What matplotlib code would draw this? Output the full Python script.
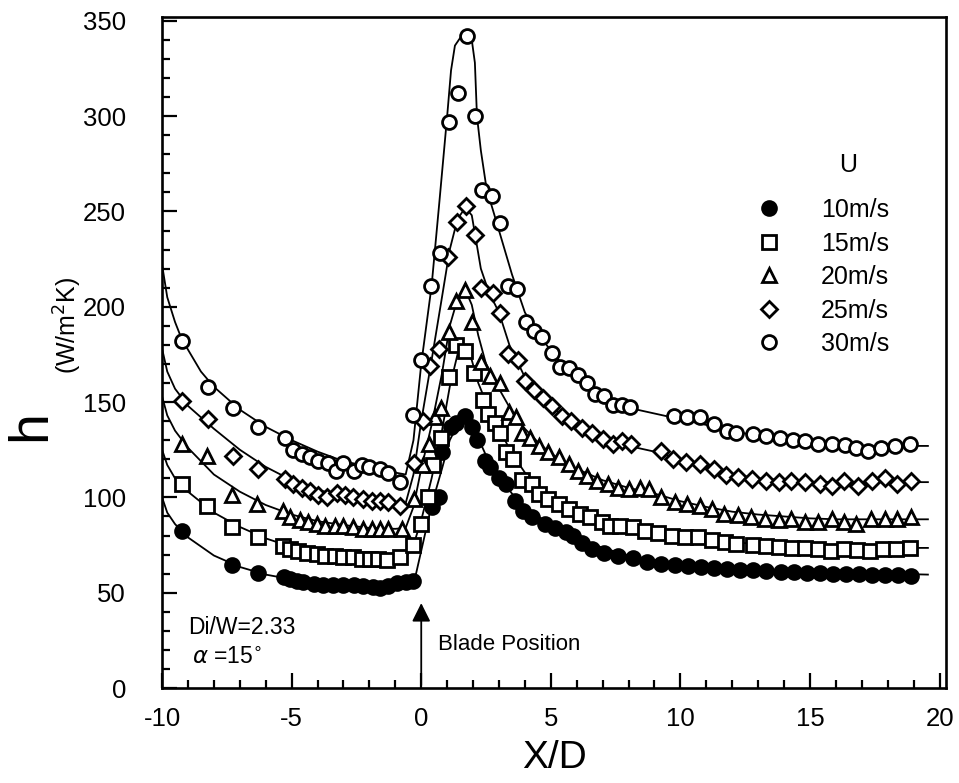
import matplotlib
matplotlib.use('Agg')
import matplotlib.pyplot as plt

plt.rcParams['font.family'] = ['Liberation Sans', 'DejaVu Sans']
plt.rcParams['axes.unicode_minus'] = False
plt.rcParams['mathtext.fontset'] = 'dejavusans'

# measured points, h (W/m2K) against X/D
x10 = [-9.25, -7.3, -6.3, -5.3, -5.05, -4.8, -4.55, -4.15, -3.8, -3.4,
       -3.0, -2.6, -2.25, -1.85, -1.6, -1.3, -0.95, -0.6, -0.3,
       0.4, 0.68, 0.81, 1.15, 1.35, 1.7, 1.97, 2.17,
       2.45, 2.65, 2.99, 3.26, 3.6, 3.94, 4.28, 4.76,
       5.16, 5.57, 5.84, 6.19, 6.59, 7.07, 7.61, 8.16,
       8.7, 9.24, 9.8, 10.3, 10.8, 11.3, 11.8, 12.3,
       12.8, 13.3, 13.9, 14.4, 14.9, 15.4, 15.9, 16.4,
       16.9, 17.4, 17.9, 18.4, 18.9]
h10 = [82.5, 64.5, 60.5, 58, 57, 56, 55.5, 54.5, 54, 54,
       54, 54, 53.5, 53, 52.5, 53.5, 55, 55.5, 56,
       95, 100, 124, 137, 139, 142.5, 137, 130,
       119, 116, 110, 107, 98, 93, 89.5, 86,
       84, 82, 80, 76, 73, 71, 69.5, 68,
       66, 65, 64.5, 64, 63.5, 63, 62.5, 62,
       62, 61.5, 61, 61, 60.5, 60.5, 60, 60,
       60, 59.5, 59.5, 59.5, 59]

x15 = [-9.24, -8.28, -7.31, -6.29, -5.32, -5.06, -4.74, -4.42, -4.03, -3.71,
       -3.33, -3.01, -2.62, -2.3, -1.98, -1.66, -1.33, -0.82, -0.31,
       0.0, 0.25, 0.47, 0.75, 1.08, 1.35, 1.7,
       2.03, 2.38, 2.57, 2.84, 3.05, 3.26, 3.53, 3.87,
       4.27, 4.54, 4.89, 5.3, 5.71, 6.12, 6.5, 6.96,
       7.28, 7.66, 8.16, 8.63, 9.13, 9.66, 10.17, 10.67,
       11.2, 11.71, 12.16, 12.8, 13.3, 13.8, 14.3, 14.8,
       15.3, 15.8, 16.3, 16.8, 17.3, 17.8, 18.3, 18.85]
h15 = [107, 95.5, 84.5, 79, 74.5, 73, 72, 71, 70.5, 69.5,
       69.5, 68.5, 68.5, 67.5, 67.5, 67.5, 67, 68.5, 75,
       86, 100, 117, 131, 163, 180, 177,
       165, 151, 144, 139, 134, 124, 120, 109,
       107, 102, 99, 96.5, 94, 91.5, 89.5, 87,
       85, 85, 84.5, 82.5, 81.5, 80, 79, 79,
       77.5, 76.5, 75.5, 75, 74.5, 74, 73.5, 73.5,
       73, 72, 73, 72.5, 72, 73, 73, 73.5]

x20 = [-9.24, -8.28, -7.31, -6.35, -5.32, -5.06, -4.68, -4.36, -4.03, -3.71,
       -3.33, -3.01, -2.62, -2.24, -1.91, -1.59, -1.27, -0.76, -0.28,
       0.07, 0.3, 0.54, 0.75, 1.08, 1.35, 1.7, 1.97,
       2.31, 2.65, 3.05, 3.4, 3.67, 3.87, 4.21, 4.55,
       4.89, 5.3, 5.71, 6.05, 6.39, 6.8, 7.2, 7.61,
       8.02, 8.43, 8.77, 9.24, 9.78, 10.27, 10.74, 11.22,
       11.69, 12.24, 12.71, 13.25, 13.8, 14.28, 14.82, 15.3,
       15.84, 16.32, 16.79, 17.34, 17.88, 18.36, 18.9]
h20 = [128, 121.5, 101.5, 96.5, 93, 89.5, 88, 87, 86, 85,
       85, 85, 84.5, 83.5, 83.5, 83.5, 83.5, 83.5, 99,
       117, 128, 142, 147, 187, 203, 209, 192,
       171, 163.5, 160, 145, 142, 134, 131, 127,
       124, 121, 117.5, 114, 111, 108.5, 107, 105,
       104.5, 105, 104.5, 100, 97.5, 96.5, 95.5, 94,
       91.5, 90.5, 89.5, 88.5, 88, 88.5, 87, 87,
       88.5, 87, 86, 88.5, 88.5, 88.5, 89.5]

x25 = [-9.24, -8.21, -7.25, -6.29, -5.26, -4.94, -4.61, -4.29, -3.97, -3.65,
       -3.26, -2.94, -2.62, -2.24, -1.91, -1.59, -1.27, -0.82, -0.28,
       0.07, 0.34, 0.68, 1.04, 1.39, 1.72, 2.07, 2.3,
       2.78, 3.05, 3.33, 3.74, 4.0, 4.35, 4.69, 5.03,
       5.44, 5.78, 6.19, 6.59, 7.0, 7.41, 7.75, 8.09,
       9.24, 9.72, 10.2, 10.74, 11.28, 11.76, 12.24, 12.78,
       13.32, 13.8, 14.28, 14.82, 15.37, 15.84, 16.32, 16.86,
       17.4, 17.88, 18.36, 18.9]
h25 = [150.5, 141, 121.5, 115, 109.5, 107, 105, 103.5, 101.5, 100,
       102.5, 101, 100, 99, 98, 98, 97.5, 95.5, 118,
       140, 169, 178, 226, 244.5, 253, 237.5, 210,
       207, 196.5, 175, 172, 161, 156.5, 152, 148,
       142.5, 140, 136.5, 134, 130.5, 128, 129.5, 128,
       124.5, 120, 118.5, 117.5, 115, 112, 110.5, 109.5,
       108.5, 108, 108.5, 108, 107, 106, 108.5, 106,
       108.5, 110, 107, 108.5]

x30 = [-9.24, -8.21, -7.25, -6.28, -5.26, -4.94, -4.6, -4.3, -4.0, -3.6,
       -3.3, -3.0, -2.6, -2.3, -2.0, -1.6, -1.3, -0.82, -0.32,
       0.01, 0.38, 0.72, 1.08, 1.43, 1.75, 2.07, 2.33,
       2.72, 3.05, 3.36, 3.7, 4.03, 4.36, 4.66, 5.03,
       5.36, 5.72, 6.06, 6.38, 6.72, 7.05, 7.4, 7.74,
       8.07, 9.76, 10.25, 10.75, 11.28, 11.78, 12.16, 12.79,
       13.32, 13.83, 14.34, 14.8, 15.3, 15.83, 16.34, 16.79,
       17.23, 17.75, 18.27, 18.85]
h30 = [182, 158, 147, 137, 131, 125, 123, 121, 119, 118,
       114, 118, 114, 117, 116, 115, 113, 108, 143,
       172, 211, 228, 297, 312, 342, 300, 261,
       258, 244, 211, 209.5, 192, 187.5, 184, 176,
       168.5, 168, 164, 160, 154, 153, 148.5, 148.5,
       147.5, 142.5, 142, 142, 138.5, 135, 134, 133,
       132, 131, 130, 129.5, 128, 128, 127.5, 126,
       124.5, 126, 127, 128]

# fitted curves as drawn in the figure
fx10 = [-10, -9.8, -9.5, -9.0, -8.0, -7.0, -6.0, -5.0, -4.0, -3.0,
        -2.0, -1.0, -0.5, -0.2, 0.1, 0.4, 0.8, 1.1, 1.4, 1.7,
        1.95, 2.2, 2.5, 3.0, 3.5, 4.0, 4.5, 5.0, 6.0, 7.0,
        8.0, 9.0, 10.0, 11.0, 12.0, 13.0, 14.0, 15.0, 16.0, 17.0,
        18.0, 19.55]
fh10 = [100, 92, 86, 79, 69.5, 63.5, 59.5, 57, 55, 54,
        53.5, 54, 55, 60, 78, 96, 115, 130, 138, 142,
        139, 131, 122, 111, 102, 95, 90, 86, 79, 73.5,
        69.5, 67, 65, 63.5, 62.5, 62, 61.5, 61, 60.5, 60,
        60, 59.5]

fx15 = [-10, -9.8, -9.5, -9.0, -8.0, -7.0, -6.0, -5.0, -4.0, -3.0,
        -2.0, -1.0, -0.6, -0.3, 0.0, 0.4, 0.8, 1.1, 1.4, 1.7,
        1.95, 2.2, 2.5, 3.0, 3.5, 4.0, 4.5, 5.0, 6.0, 7.0,
        8.0, 9.0, 10.0, 11.0, 12.0, 13.0, 14.0, 15.0, 16.0, 17.0,
        18.0, 19.55]
fh15 = [125, 117, 110, 103, 92, 84.5, 78.5, 74, 71, 69.5,
        68.5, 68, 68.5, 75, 88, 110, 135, 158, 175, 179,
        172, 160, 150, 136, 123, 113, 106, 100, 92, 87.5,
        84.5, 82, 80, 78, 76.5, 75.5, 74.5, 74, 73.5, 73.5,
        73.5, 73.5]

fx20 = [-10, -9.8, -9.5, -9.0, -8.0, -7.0, -6.0, -5.0, -4.0, -3.0,
        -2.0, -1.0, -0.6, -0.3, 0.0, 0.4, 0.8, 1.1, 1.4, 1.7,
        1.95, 2.2, 2.5, 3.0, 3.5, 4.0, 4.5, 5.0, 6.0, 7.0,
        8.0, 9.0, 10.0, 11.0, 12.0, 13.0, 14.0, 15.0, 16.0, 17.0,
        18.0, 19.55]
fh20 = [153, 143, 135, 126, 112, 103, 96, 91, 87.5, 85.5,
        84, 83.5, 84, 95, 115, 138, 165, 190, 204, 209,
        201, 185, 170, 157, 145, 136, 129, 123, 115, 109,
        105, 102, 98, 95, 92.5, 91, 90, 89, 88.5, 88.5,
        88.5, 88.5]

fx25 = [-10, -9.8, -9.5, -9.0, -8.0, -7.0, -6.0, -5.0, -4.0, -3.0,
        -2.0, -1.0, -0.6, -0.3, 0.0, 0.4, 0.8, 1.1, 1.4, 1.7,
        1.95, 2.1, 2.3, 2.6, 3.0, 3.4, 4.0, 4.5, 5.0, 6.0,
        7.0, 8.0, 9.0, 10.0, 11.0, 12.0, 13.0, 14.0, 15.0, 16.0,
        17.0, 18.0, 19.55]
fh25 = [178, 166, 157, 148, 136, 125, 116, 109, 104, 100.5,
        98.5, 97, 97, 112, 140, 172, 205, 230, 246, 252,
        248, 236, 220, 208, 197, 180, 163, 155, 148, 137,
        131, 127, 124, 120, 116, 112, 110, 109, 108, 108,
        108, 108, 108]

fx30 = [-10, -9.8, -9.5, -9.24, -8.5, -8.0, -7.0, -6.0, -5.0, -4.0,
        -3.0, -2.0, -1.0, -0.6, -0.3, 0.0, 0.4, 0.7, 1.0, 1.15,
        1.3, 1.5, 1.75, 1.95, 2.07, 2.15, 2.3, 2.52, 3.0, 3.5,
        4.0, 4.5, 5.0, 5.5, 6.0, 7.0, 8.0, 9.0, 10.0, 11.0,
        12.0, 13.0, 14.0, 15.0, 16.0, 17.0, 18.0, 19.55]
fh30 = [222, 205, 192, 183, 166, 158, 146, 137, 130, 124,
        119, 116, 113, 112, 130, 170, 211, 255, 300, 324,
        337, 341, 343, 340, 328, 300, 282, 262, 240, 217,
        197, 186, 177, 169, 163, 153, 147, 144, 141, 138,
        135, 132, 130, 128.5, 127.5, 127, 127, 127]

labels = ['10m/s', '15m/s', '20m/s', '25m/s', '30m/s']
markers = ['o', 's', '^', 'D', 'o']
sizes = [10, 9.5, 10.5, 8.5, 10]
facecolors = ['black', 'white', 'white', 'white', 'white']

series = [(x10, h10, fx10, fh10), (x15, h15, fx15, fh15), (x20, h20, fx20, fh20),
          (x25, h25, fx25, fh25), (x30, h30, fx30, fh30)]

fig = plt.figure(figsize=(9.59, 7.83), dpi=100)
ax = fig.add_axes([0.169, 0.1213, 0.8175, 0.857])

handles = []
for (xs, hs, fx, fh), lab, m, ms, fc in zip(series, labels, markers, sizes, facecolors):
    ax.plot(fx, fh, color='black', lw=1.3, zorder=2)
    hnd, = ax.plot(xs, hs, linestyle='none', marker=m, ms=ms, mfc=fc,
                   mec='black', mew=2.0, label=lab, zorder=3)
    handles.append(hnd)

ax.set_xlim(-10, 20.25)
ax.set_ylim(0, 352)
ax.set_xticks([-10, -5, 0, 5, 10, 15, 20])
ax.set_yticks([0, 50, 100, 150, 200, 250, 300, 350])
ax.set_xticks([v for v in range(-10, 21)], minor=True)
ax.set_yticks([v for v in range(0, 351, 10)], minor=True)
ax.tick_params(which='both', direction='in', top=False, right=False, width=1.6)
ax.tick_params(which='major', length=11, labelsize=18.5)
ax.tick_params(which='minor', length=6)
ax.tick_params(axis='y', pad=26)
ax.tick_params(axis='x', pad=14)
for s in ax.spines.values():
    s.set_linewidth(1.9)

ax.set_xlabel('X/D', fontsize=28, labelpad=6)
fig.text(0.032, 0.457, 'h', fontsize=40, rotation=90, ha='center', va='center')
fig.text(0.071, 0.584, '(W/m$^2$K)', fontsize=18, rotation=90, ha='center', va='center')

leg = ax.legend(handles=handles, loc='upper left', bbox_to_anchor=(0.745, 0.745),
                frameon=False, fontsize=18, handlelength=1.0,
                handletextpad=1.6, labelspacing=0.38, borderaxespad=0)
ax.text(0.875, 0.78, 'U', transform=ax.transAxes, fontsize=18, ha='center', va='center')

ax.annotate('', xy=(0, 46), xytext=(0, 0),
            arrowprops=dict(arrowstyle='-|>', color='black', lw=1.3, mutation_scale=28))
ax.text(0.65, 23, 'Blade Position', fontsize=16, ha='left', va='center')
ax.text(-9.0, 32, 'Di/W=2.33', fontsize=16.5, ha='left', va='center')
ax.text(-8.85, 16, r'$\alpha$ =15$^{\circ}$', fontsize=16.5, ha='left', va='center')

fig.savefig('out.png', dpi=100)
